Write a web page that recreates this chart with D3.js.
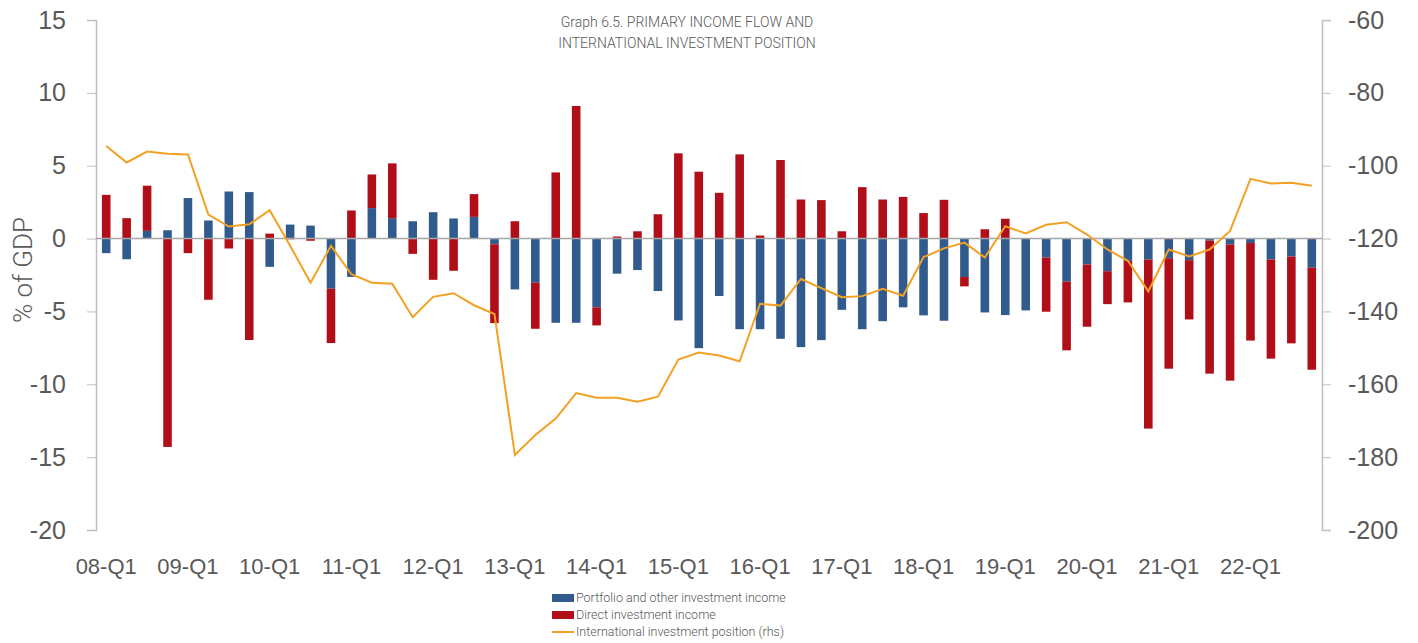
<!DOCTYPE html>
<html>
<head>
<meta charset="utf-8">
<script src="https://cdn.jsdelivr.net/npm/d3@7"></script>
<style>
  body { margin: 0; background: #fff; }
  svg { display: block; font-family: Roboto, "Liberation Sans", sans-serif; font-weight: 300; }
  .tick text { fill: #595959; }
</style>
</head>
<body>
<div class="graph"></div>
<script>
// years and quarters along the x axis
var years = ["08", "09", "10", "11", "12", "13", "14", "15", "16", "17", "18", "19", "20", "21", "22"];
var qtrs = ["Q1", "Q2", "Q3", "Q4"];
var categories = years.flatMap(function(y) { return qtrs.map(function(q) { return y + "-" + q; }); });

// % of GDP
var portfolio = [-1.0, -1.42, 0.53, 0.57, 2.78, 1.24, 3.23, 3.19, -1.94, 0.96,
  0.89, -3.44, -2.63, 2.09, 1.40, 1.19, 1.81, 1.38, 1.49, -0.39,
  -3.49, -3.03, -5.78, -5.78, -4.72, -2.41, -2.16, -3.6, -5.62, -7.52,
  -3.94, -6.22, -6.22, -6.88, -7.45, -6.97, -4.89, -6.22, -5.67, -4.72,
  -5.27, -5.64, -2.64, -5.07, -5.25, -4.93, -1.3, -2.95, -1.78, -2.24,
  -1.53, -1.44, -1.35, -1.48, -0.14, -0.41, -0.30, -1.44, -1.23, -2.0];
var direct = [3.0, 1.4, 3.1, -14.3, -1.0, -4.2, -0.68, -6.96, 0.34, -0.05,
  -0.15, -3.73, 1.93, 2.31, 3.76, -1.05, -2.83, -2.21, 1.56, -5.41,
  1.19, -3.16, 4.54, 9.1, -1.24, 0.14, 0.5, 1.67, 5.85, 4.59,
  3.14, 5.78, 0.21, 5.39, 2.68, 2.64, 0.5, 3.53, 2.68, 2.86,
  1.75, 2.66, -0.64, 0.64, 1.36, 0, -3.72, -4.72, -4.27, -2.26,
  -2.85, -11.6, -7.58, -4.07, -9.13, -9.34, -6.7, -6.8, -5.96, -7.0];
// international investment position, rhs
var iip = [-94.6, -99.1, -96.1, -96.7, -96.9, -113.4, -116.7, -116.1, -112.2, -122,
  -132.1, -122.0, -129.8, -132.1, -132.4, -141.6, -136.0, -135.0, -138.3, -140.7,
  -179.4, -173.9, -169.4, -162.4, -163.7, -163.7, -164.8, -163.4, -153.2, -151.3,
  -152.1, -153.7, -137.9, -138.4, -131.1, -133.6, -136.1, -135.8, -133.8, -135.7,
  -125.1, -122.7, -121.1, -125.2, -116.6, -118.6, -116.2, -115.5, -118.9, -123.0,
  -126.1, -134.5, -123.0, -124.9, -123.0, -117.9, -103.6, -104.9, -104.7, -105.5];

var seriesNames = ["Portfolio and other investment income", "Direct investment income", "International investment position (rhs)"];
var colors = ["#325b8d", "#b00e18", "#f2a124"];

var width = 1418, height = 643;
var margin = {top: 20, right: 96, bottom: 113, left: 96};

var svg = d3.select(".graph").append("svg")
    .attr("width", width)
    .attr("height", height);

var x = d3.scaleBand()
    .domain(categories)
    .range([margin.left, width - margin.right])
    .paddingInner(0.58)
    .paddingOuter(0.29);

var y = d3.scaleLinear().domain([-20, 15]).range([height - margin.bottom, margin.top]);
var y2 = d3.scaleLinear().domain([-200, -60]).range([height - margin.bottom, margin.top]);

// plain hyphen for negatives, like the original
var fmt = function(d) { return String(d); };

// left axis
var gl = svg.append("g")
    .attr("transform", "translate(" + margin.left + ",0)")
    .call(d3.axisLeft(y).tickValues(d3.range(-20, 16, 5)).tickFormat(fmt).tickSize(9).tickPadding(21));
// right axis
var gr = svg.append("g")
    .attr("transform", "translate(" + (width - margin.right) + ",0)")
    .call(d3.axisRight(y2).tickValues(d3.range(-200, -59, 20)).tickFormat(fmt).tickSize(9).tickPadding(17));

[gl, gr].forEach(function(g) {
  g.select(".domain").attr("stroke", "#bfbfbf").attr("stroke-width", 1.5);
  g.selectAll(".tick line").attr("stroke", "#bfbfbf");
  g.selectAll(".tick text").attr("font-size", 25).attr("font-weight", 300);
});

// x labels, first quarter of every year
svg.append("g")
    .attr("transform", "translate(0," + (height - margin.bottom) + ")")
    .call(d3.axisBottom(x).tickValues(categories.filter(function(c) { return c.slice(3) == "Q1"; })).tickSize(0).tickPadding(28))
    .call(function(g) { g.select(".domain").remove(); })
    .selectAll("text").attr("font-size", 22).attr("font-weight", 300);

// stacked bars, diverging
var rows = categories.map(function(c, i) { return {cat: c, portfolio: portfolio[i], direct: direct[i]}; });
var stack = d3.stack().keys(["portfolio", "direct"]).offset(d3.stackOffsetDiverging);
var layers = stack(rows);

svg.append("g").selectAll("g")
  .data(layers)
  .join("g")
    .attr("fill", function(d, i) { return colors[i]; })
  .selectAll("rect")
  .data(function(d) { return d; })
  .join("rect")
    .attr("x", function(d) { return x(d.data.cat); })
    .attr("width", x.bandwidth())
    .attr("y", function(d) { return y(Math.max(d[0], d[1])); })
    .attr("height", function(d) { return Math.abs(y(d[0]) - y(d[1])); });

// zero line
svg.append("line")
    .attr("x1", margin.left).attr("x2", width - margin.right)
    .attr("y1", y(0)).attr("y2", y(0))
    .attr("stroke", "#a6a6a6").attr("stroke-width", 1.5);

// IIP line
var line = d3.line()
    .x(function(d, i) { return x(categories[i]) + x.bandwidth() / 2; })
    .y(function(d) { return y2(d); });

svg.append("path")
    .datum(iip)
    .attr("fill", "none")
    .attr("stroke", colors[2])
    .attr("stroke-width", 2)
    .attr("d", line);

// y title
svg.append("text")
    .attr("transform", "translate(32," + 270 + ") rotate(-90)")
    .attr("text-anchor", "middle")
    .attr("font-size", 26)
    .attr("fill", "#595959")
    .text("% of GDP");

// title
var title = svg.append("text")
    .attr("text-anchor", "middle")
    .attr("font-size", 14)
    .attr("fill", "#595959");
title.append("tspan").attr("x", 687).attr("y", 27).text("Graph 6.5. PRIMARY INCOME FLOW AND");
title.append("tspan").attr("x", 687).attr("y", 48).text("INTERNATIONAL INVESTMENT POSITION");

// legend
var legend = svg.append("g").attr("transform", "translate(552,598)");
seriesNames.forEach(function(name, i) {
  var row = legend.append("g").attr("transform", "translate(0," + (i * 17) + ")");
  if (i < 2) {
    row.append("rect").attr("x", 0).attr("y", -4).attr("width", 22).attr("height", 8).attr("fill", colors[i]);
  } else {
    row.append("line").attr("x1", 0).attr("x2", 22).attr("y1", 0).attr("y2", 0)
        .attr("stroke", colors[i]).attr("stroke-width", 2);
  }
  row.append("text")
      .attr("x", 24).attr("y", 0).attr("dy", "0.35em")
      .attr("font-size", 12.5)
      .attr("fill", "#595959")
      .text(name);
});
</script>
</body>
</html>
